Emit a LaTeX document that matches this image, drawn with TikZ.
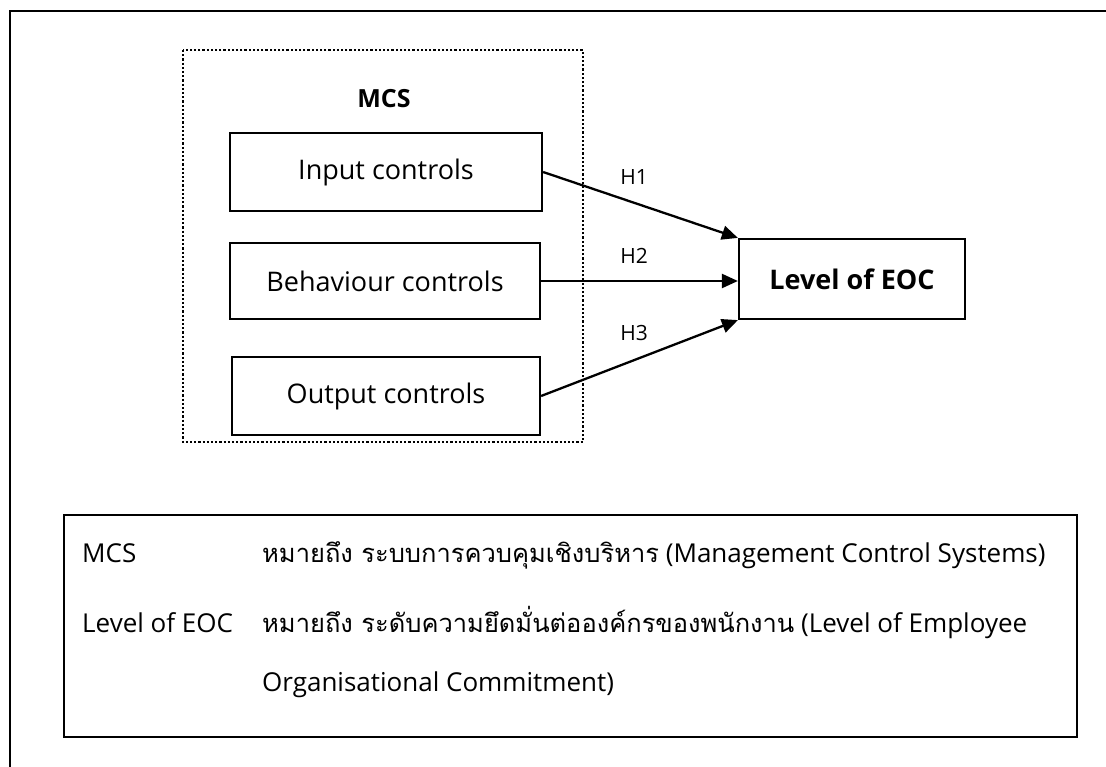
\documentclass[tikz,border=0pt]{standalone}
\usepackage{fontspec}
\setmainfont{Open Sans}
\newfontfamily\thai[Script=Thai,Scale=0.98]{Loma}
\usetikzlibrary{arrows.meta}
\begin{document}
\begin{tikzpicture}[x=1pt,y=-1pt,
  box/.style={draw,line width=2.2pt,minimum height=78pt,inner sep=0pt,font=\fontsize{27}{31}\selectfont},
  arr/.style={line width=2.3pt,-{Triangle[length=16pt,width=14pt]}},
  hl/.style={font=\fontsize{21}{25}\selectfont},
  lg/.style={anchor=base west,inner sep=0pt,font=\fontsize{26}{30}\selectfont}]
\useasboundingbox (0,0) rectangle (1106,767);
% outer frame (left and top edges)
\draw[line width=2.2pt] (10,780) -- (10,11) -- (1120,11);
% MCS dotted group
\draw[line width=2.2pt,dotted] (183,50) rectangle (583,442);
\node[font=\bfseries\fontsize{25}{29}\selectfont] (mcs) at (384,99) {MCS};
% boxes
\node[box,minimum width=312pt] (in) at (386,172) {Input controls};
\node[box,minimum width=310pt,minimum height=76pt] (beh) at (385,281) {Behaviour controls};
\node[box,minimum width=308pt] (out) at (386,396) {Output controls};
\node[box,minimum width=226pt,minimum height=80pt,font=\bfseries\fontsize{27}{31}\selectfont] (eoc) at (852,279) {Level of EOC};
% arrows
\draw[arr] (in.east) -- (eoc.north west);
\node[hl] (h1) at (634,177) {H1};
\draw[arr] (beh.east) -- (beh.east -| eoc.west) coordinate (e2);
\node[hl] (h2) at (634,256) {H2};
\draw[arr] (out.east) -- (eoc.south west);
\node[hl] (h3) at (634,333) {H3};
% legend
\node[draw,line width=2.2pt,minimum width=1013pt,minimum height=222pt,inner sep=0pt] (leg) at (570.5,626) {};
\node[lg] (t1a) at (82,562) {MCS};
\node[lg] (t1b) at (262,562) {{\thai หมายถึง ระบบการควบคุมเชิงบริหาร} (Management Control Systems)};
\node[lg] (t2a) at (82,632) {Level of EOC};
\node[lg] (t2b) at (262,632) {{\thai หมายถึง ระดับความยึดมั่นต่อองค์กรของพนักงาน} (Level of Employee};
\node[lg] (t3b) at (262,691) {Organisational Commitment)};
\end{tikzpicture}
\end{document}
